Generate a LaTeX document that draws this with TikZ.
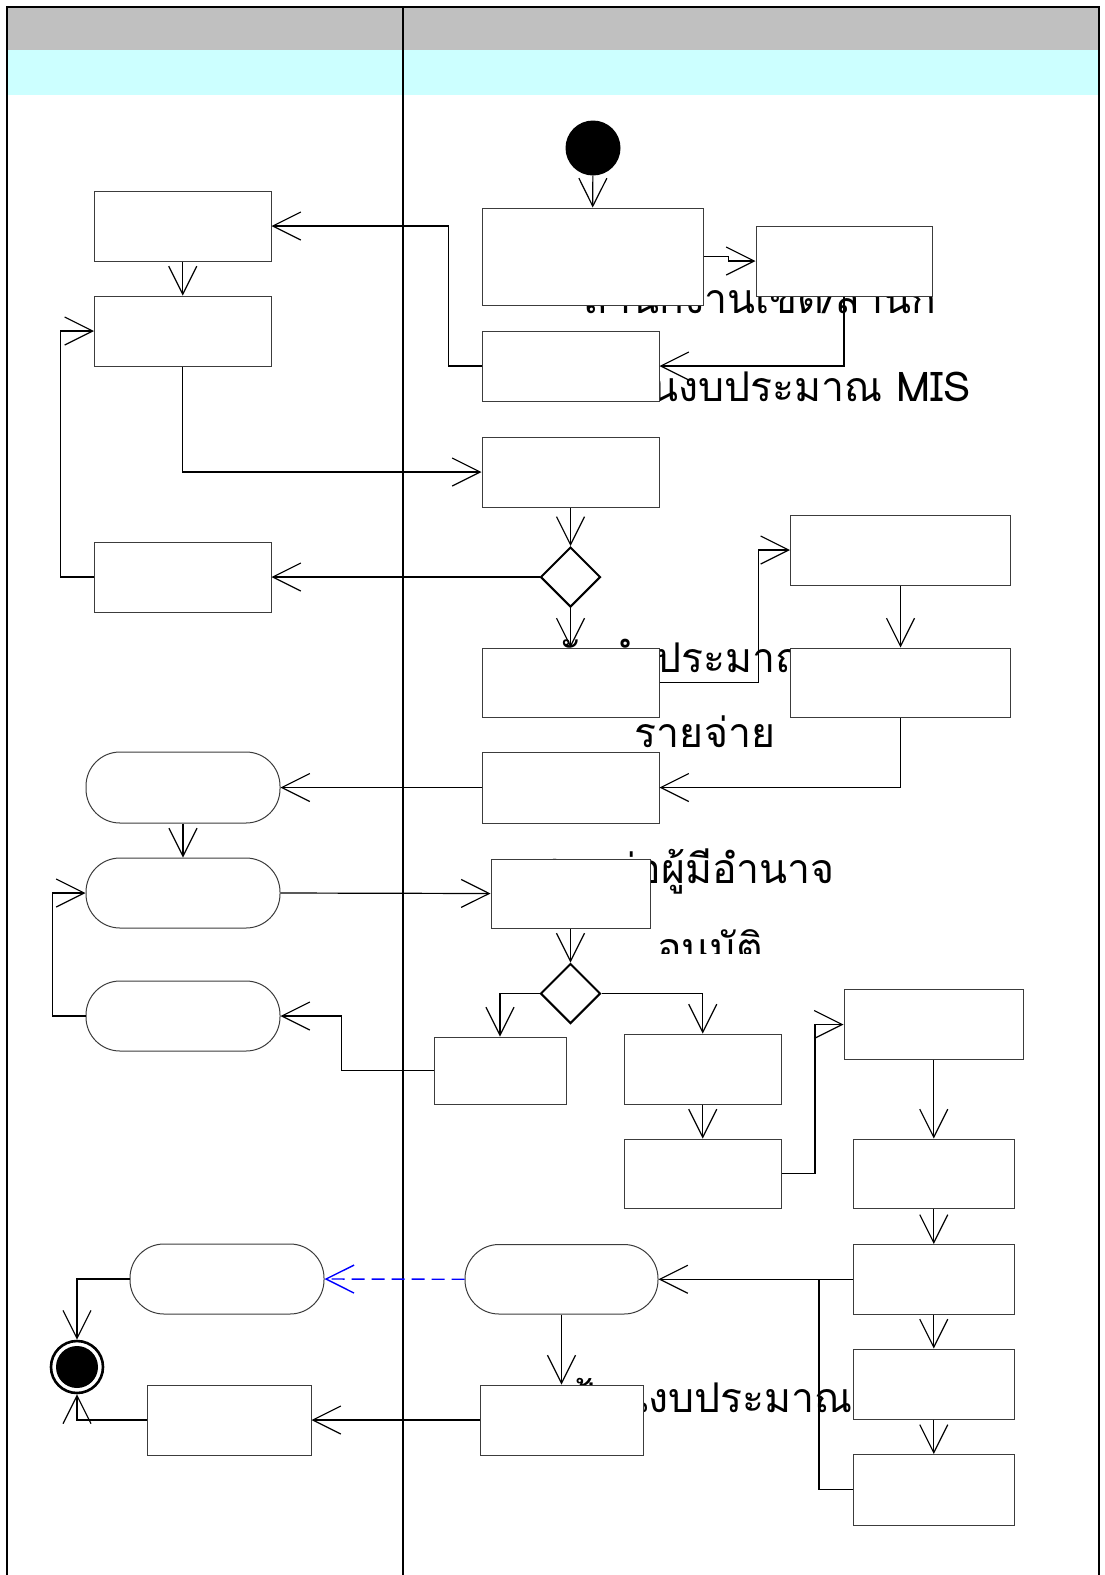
\documentclass[tikz,border=0pt]{standalone}
\usepackage{fontspec}
\newfontfamily\thai[Script=Thai]{Loma}
\usetikzlibrary{arrows.meta,shapes.geometric}
\definecolor{hdrgray}{RGB}{192,192,192}
\definecolor{hdrcyan}{RGB}{204,255,255}
\definecolor{boxline}{RGB}{60,60,60}
\begin{document}
\begin{tikzpicture}[x=1pt,y=-1pt,
  actbox/.style={draw=boxline, line width=1pt, fill=white, inner sep=0pt},
  pill/.style={actbox, rounded corners=34pt},
  decide/.style={diamond, draw=black, line width=2pt, fill=white, minimum width=60pt, minimum height=60pt, inner sep=0pt},
  flow/.style={draw=black, line width=1.2pt, -{Straight Barb[length=28pt,width=28pt]}},
  plain/.style={draw=black, line width=1.2pt},
  msg/.style={draw=blue, line width=1.4pt, dash pattern=on 13pt off 7pt, -{Straight Barb[length=28pt,width=28pt]}},
  lbl/.style={inner sep=0pt, font=\thai\fontsize{41}{48}\selectfont},
]
\useasboundingbox (0,0) rectangle (1104,1575);
% header bands
\fill[hdrgray] (7,7) rectangle (1099,50);
\fill[hdrcyan] (7,50) rectangle (1099,95);
\draw[line width=2pt] (7,1575) -- (7,7) -- (1099,7) -- (1099,1575);
\draw[line width=2.5pt] (403,7) -- (403,1575);

% texts (partly hidden behind boxes)
\node[lbl, anchor=base west] (t1) at (583,313) {สำนักงานเขต/สำนัก};
\node[lbl, anchor=base east] (t2) at (971,401) {บันทึกในงบประมาณ MIS};
\node[lbl, anchor=base east] (t3a) at (655,672) {จัดทำ};
\node[lbl, anchor=base west] (t3b) at (655,672) {ประมาณการ};
\node[lbl, anchor=base] (t4) at (705,747) {รายจ่าย};
\node[lbl, anchor=base east] (t5) at (835,883) {เสนอต่อผู้มีอำนาจ};
\begin{scope}
\clip (645,900) rectangle (900,953);
\node[lbl, anchor=base west] (t6) at (657,962) {อนุมัติ};
\end{scope}
\node[lbl, anchor=base east] (t7) at (853,1412) {ป้อนงบประมาณ};

% left lane
\node[actbox, minimum width=176.5pt, minimum height=70pt] (b1) at (182.75,226) {};
\node[actbox, minimum width=176.5pt, minimum height=70pt] (b2) at (182.75,331) {};
\node[actbox, minimum width=176.5pt, minimum height=70pt] (b3) at (182.75,577) {};
\node[pill, minimum width=194pt, minimum height=71pt] (r1) at (183,787.5) {};
\node[pill, minimum width=194pt, minimum height=70pt] (r2) at (183,893) {};
\node[pill, minimum width=194pt, minimum height=70pt] (r3) at (183,1016) {};
\node[pill, minimum width=194pt, minimum height=70pt] (r4) at (227,1279) {};
\node[actbox, minimum width=164pt, minimum height=70pt] (b4) at (229,1420) {};
\node[circle, draw=black, line width=2.6pt, fill=white, minimum size=52pt, inner sep=0pt] (fin) at (77,1367) {};
\node[circle, fill=black, minimum size=42pt, inner sep=0pt] (fincore) at (77,1367) {};

% right lane
\node[circle, fill=black, minimum size=55pt, inner sep=0pt] (st) at (593,148) {};
\node[actbox, minimum width=221pt, minimum height=97pt] (A) at (592.5,256.5) {};
\node[actbox, minimum width=176pt, minimum height=70pt] (B) at (844,261) {};
\node[actbox, minimum width=177pt, minimum height=70pt] (C) at (570.5,366) {};
\node[actbox, minimum width=177pt, minimum height=70pt] (D) at (570.5,472) {};
\node[decide] (d1) at (570.5,577) {};
\node[actbox, minimum width=177pt, minimum height=69pt] (D1) at (570.5,682.5) {};
\node[actbox, minimum width=220pt, minimum height=70pt] (K) at (900.5,550) {};
\node[actbox, minimum width=220pt, minimum height=69pt] (K2) at (900.5,682.5) {};
\node[actbox, minimum width=177pt, minimum height=71pt] (I) at (570.5,787.5) {};
\node[actbox, minimum width=159pt, minimum height=69pt] (E) at (570.5,893.5) {};
\node[decide] (d2) at (570.5,993.5) {};
\node[actbox, minimum width=132pt, minimum height=67pt] (J) at (500,1070.5) {};
\node[actbox, minimum width=157.5pt, minimum height=70pt] (M) at (702.75,1069) {};
\node[actbox, minimum width=157.5pt, minimum height=69pt] (M2) at (702.75,1173.5) {};
\node[actbox, minimum width=179.5pt, minimum height=70pt] (N) at (933.75,1024.5) {};
\node[actbox, minimum width=161.5pt, minimum height=69pt] (P) at (933.75,1173.5) {};
\node[actbox, minimum width=161.5pt, minimum height=69.5pt] (Q) at (933.75,1279.25) {};
\node[actbox, minimum width=161.5pt, minimum height=70pt] (R) at (933.75,1384) {};
\node[actbox, minimum width=161.5pt, minimum height=70.5pt] (S) at (933.75,1489.75) {};
\node[pill, minimum width=193pt, minimum height=69.5pt] (H) at (561.5,1279.25) {};
\node[actbox, minimum width=163pt, minimum height=70pt] (F) at (561.5,1420) {};
\coordinate (jn) at (819,1279.25);

% connectors
\draw[flow] (st) -- (A);
\draw[flow] (A.east) -- ++(25,0) |- (B.west);
\draw[flow] (B.south) |- (C.east);
\draw[flow] (C.west) -- ++(-33,0) |- (b1.east);
\draw[flow] (b1) -- (b2);
\draw[flow] (b2.south) |- (D.west);
\draw[flow] (D) -- (d1);
\draw[flow] (d1.west) -- (b3.east);
\draw[flow] (b3.west) -- ++(-33.5,0) |- (b2.west);
\draw[flow] (d1.south) -- (D1.north);
\draw[flow] (D1.east) -- ++(99,0) |- (K.west);
\draw[flow] (K) -- (K2);
\draw[flow] (K2.south) |- (I.east);
\draw[flow] (I.west) -- (r1.east);
\draw[flow] (r1) -- (r2);
\draw[flow] (r2.east) -- (E.west);
\draw[flow] (E) -- (d2);
\draw[flow] (d2.west) -| (J.north);
\draw[flow] (d2.east) -| (M.north);
\draw[flow] (J.west) -- ++(-92,0) |- (r3.east);
\draw[flow] (r3.west) -- ++(-33,0) |- (r2.west);
\draw[flow] (M) -- (M2);
\draw[flow] (M2.east) -- ++(33,0) |- (N.west);
\draw[flow] (N) -- (P);
\draw[flow] (P) -- (Q);
\draw[flow] (Q) -- (R);
\draw[flow] (R) -- (S);
\draw[flow] (Q.west) -- (H.east);
\draw[plain] (S.west) -| (jn);
\draw[flow] (H.south) -- (F.north);
\draw[flow] (F.west) -- (b4.east);
\draw[msg] (H.west) -- (r4.east);
\draw[flow] (r4.west) -| (fin.north);
\draw[flow] (b4.west) -| (fin.south);
\end{tikzpicture}
\end{document}
